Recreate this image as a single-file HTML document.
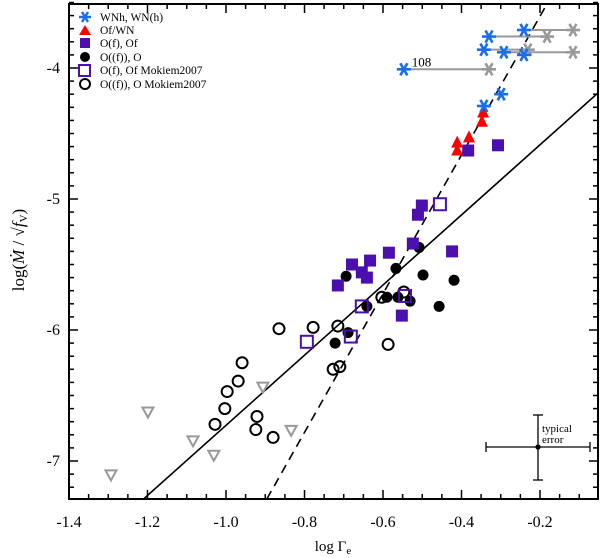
<!DOCTYPE html>
<html><head><meta charset="utf-8"><style>
body{margin:0;background:#fff;}
svg{display:block;font-family:"Liberation Serif","DejaVu Serif",serif;}
</style></head><body>
<svg id="chart" width="600" height="558" viewBox="0 0 600 558" xmlns="http://www.w3.org/2000/svg"></svg>
<script>
// ---- data ----
const xTicks=[-1.4,-1.2,-1.0,-0.8,-0.6,-0.4,-0.2];
const xTickLabels=["-1.4","-1.2","-1.0","-0.8","-0.6","-0.4","-0.2"];
const yTicks=[-4,-5,-6,-7];
const yTickLabels=["-4","-5","-6","-7"];
const wnX=[-0.241,-0.330,-0.343,-0.292,-0.241,-0.547,-0.299,-0.343];
const wnY=[-3.71,-3.76,-3.86,-3.88,-3.90,-4.01,-4.20,-4.29];
const grayX=[-0.116,-0.182,-0.231,-0.116,-0.330];
const grayY=[-3.71,-3.76,-3.86,-3.88,-4.01];
const linkFromX=[-0.241,-0.330,-0.343,-0.292,-0.547];
const ofwnX=[-0.345,-0.348,-0.381,-0.411,-0.411];
const ofwnY=[-4.34,-4.41,-4.53,-4.57,-4.63];
const ofX=[-0.383,-0.307,-0.501,-0.511,-0.524,-0.585,-0.424,-0.679,-0.633,-0.654,-0.641,-0.715,-0.552];
const ofY=[-4.63,-4.59,-5.05,-5.12,-5.34,-5.41,-5.40,-5.50,-5.47,-5.56,-5.60,-5.66,-5.89];
const ofMkX=[-0.455,-0.544,-0.654,-0.682,-0.794];
const ofMkY=[-5.04,-5.74,-5.82,-6.05,-6.09];
const oX=[-0.508,-0.567,-0.694,-0.498,-0.419,-0.590,-0.562,-0.531,-0.641,-0.457,-0.689,-0.722];
const oY=[-5.37,-5.53,-5.59,-5.58,-5.62,-5.75,-5.75,-5.78,-5.82,-5.82,-6.02,-6.10];
const oMkX=[-0.603,-0.547,-0.715,-0.778,-0.865,-0.587,-0.710,-0.727,-0.959,-0.969,-0.997,-1.003,-1.028,-0.921,-0.924,-0.880];
const oMkY=[-5.75,-5.71,-5.97,-5.98,-5.99,-6.11,-6.28,-6.30,-6.25,-6.39,-6.47,-6.60,-6.72,-6.66,-6.76,-6.82];
const triX=[-1.293,-1.199,-1.084,-1.031,-0.906,-0.834];
const triY=[-7.11,-6.63,-6.85,-6.96,-6.44,-6.77];
const solidLine=[[-1.21,-7.29],[-0.052,-4.19]];
const dashLine=[[-0.896,-7.29],[-0.182,-3.51]];

// ---- axes ----
const L=69,R=598,T=4,B=499;
const X=v=>L+(v+1.4)*392.5;
const Y=v=>68-(v+4)*131;
const svg=document.getElementById('chart');
const NS='http://www.w3.org/2000/svg';
function el(tag,attrs,parent){const e=document.createElementNS(NS,tag);for(const k in attrs)e.setAttribute(k,attrs[k]);(parent||svg).appendChild(e);return e;}

const defs=el('defs',{});
const cp=el('clipPath',{id:'clip'},defs);el('rect',{x:L,y:T,width:R-L,height:B-T},cp);

const gl=el('g',{'clip-path':'url(#clip)'});
let ln=el('line',{x1:X(solidLine[0][0]),y1:Y(solidLine[0][1]),x2:X(solidLine[1][0]),y2:Y(solidLine[1][1]),stroke:'#000','stroke-width':1.6},gl);


ln=el('line',{x1:X(dashLine[0][0]),y1:Y(dashLine[0][1]),x2:X(dashLine[1][0]),y2:Y(dashLine[1][1]),stroke:'#000','stroke-width':1.6,'stroke-dasharray':'9,6'},gl);



for(let i=0;i<grayX.length;i++){
  const l=el('line',{x1:X(linkFromX[i]),y1:Y(grayY[i]),x2:X(grayX[i]),y2:Y(grayY[i]),stroke:'#999','stroke-width':2});
  
  
}
function star(cx,cy,c,r){const g=el('g',{stroke:c,'stroke-width':2.6});
  el('line',{x1:cx-r,y1:cy,x2:cx+r,y2:cy},g);
  el('line',{x1:cx-r*0.5,y1:cy-r*0.87,x2:cx+r*0.5,y2:cy+r*0.87},g);
  el('line',{x1:cx-r*0.5,y1:cy+r*0.87,x2:cx+r*0.5,y2:cy-r*0.87},g);return g;}
for(let i=0;i<grayX.length;i++){const g=star(X(grayX[i]),Y(grayY[i]),'#999',7);
  
  }
for(let i=0;i<triX.length;i++){const cx=X(triX[i]),cy=Y(triY[i]);
  const p=el('polygon',{points:`${cx-5.5},${cy-5} ${cx+5.5},${cy-5} ${cx},${cy+5}`,fill:'none',stroke:'#999','stroke-width':2});
  
  }
for(let i=0;i<oMkX.length;i++){const c=el('circle',{cx:X(oMkX[i]),cy:Y(oMkY[i]),r:5.5,fill:'none',stroke:'#000','stroke-width':2});
  
  }
for(let i=0;i<oX.length;i++){const c=el('circle',{cx:X(oX[i]),cy:Y(oY[i]),r:5.5,fill:'#000'});
  
  }
for(let i=0;i<ofX.length;i++){const r=el('rect',{x:X(ofX[i])-6,y:Y(ofY[i])-6,width:12,height:12,fill:'#4b0fb0'});
  
  }
for(let i=0;i<ofMkX.length;i++){const r=el('rect',{x:X(ofMkX[i])-6,y:Y(ofMkY[i])-6,width:12,height:12,fill:'none',stroke:'#4b0fb0','stroke-width':2});
  
  }
for(let i=0;i<ofwnX.length;i++){const cx=X(ofwnX[i]),cy=Y(ofwnY[i]);
  const p=el('polygon',{points:`${cx-6},${cy+5} ${cx+6},${cy+5} ${cx},${cy-7}`,fill:'#f00'});
  
  }
for(let i=0;i<wnX.length;i++){const g=star(X(wnX[i]),Y(wnY[i]),'#1a6cf0',7);
  
  }
let t=el('text',{x:X(-0.547)+8,y:Y(-4.01)-3,'font-size':13});t.textContent='108';



el('rect',{x:L,y:T,width:R-L,height:B-T,fill:'none',stroke:'#000','stroke-width':2});
const tg=el('g',{stroke:'#000','stroke-width':1.5});
for(let v=-1.4;v<=-0.05;v+=0.05){const px=X(v);const maj=Math.abs(v*5-Math.round(v*5))<1e-6;const len=maj?9:5;
  el('line',{x1:px,y1:B,x2:px,y2:B-len},tg);el('line',{x1:px,y1:T,x2:px,y2:T+len},tg);}
for(let v=-7.2;v<=-3.5;v+=0.1){const py=Y(v);const maj=Math.abs(v-Math.round(v))<1e-6;const len=maj?9:5;
  el('line',{x1:L,y1:py,x2:L+len,y2:py},tg);el('line',{x1:R,y1:py,x2:R-len,y2:py},tg);}
for(let i=0;i<xTicks.length;i++){const tx=el('text',{x:X(xTicks[i]),y:527,'font-size':16,'text-anchor':'middle'});tx.textContent=xTickLabels[i];
  
  }
for(let i=0;i<yTicks.length;i++){const tx=el('text',{x:60,y:Y(yTicks[i])+5,'font-size':16,'text-anchor':'end'});tx.textContent=yTickLabels[i];
  
  }
</script>
<svg style="position:absolute;left:0;top:0" width="600" height="558" font-family="Liberation Serif, serif">
  <text x="333" y="551" font-size="15" text-anchor="middle">log Γ<tspan font-size="11" dy="3">e</tspan></text>
  <text transform="translate(24,250) rotate(-90)" font-size="17" text-anchor="middle">log(<tspan font-style="italic">Ṁ</tspan> / √<tspan font-style="italic">f</tspan><tspan font-size="11" dy="3">V</tspan><tspan dy="-3">)</tspan></text>
  <g stroke="#000" stroke-width="1.3">
    <line x1="486" y1="447" x2="590" y2="447"/><line x1="486" y1="442" x2="486" y2="452"/><line x1="590" y1="442" x2="590" y2="452"/>
    <line x1="538" y1="415" x2="538" y2="480"/><line x1="533" y1="415" x2="543" y2="415"/><line x1="533" y1="480" x2="543" y2="480"/>
    <circle cx="538" cy="447" r="2" fill="#000"/>
  </g>
  <text x="542" y="432" font-size="11">typical</text>
  <text x="542" y="443" font-size="11">error</text>
  <g font-size="11.5">
    <g><g stroke="#1a6cf0" stroke-width="2.4"><line x1="79" y1="17" x2="91" y2="17"/><line x1="82" y1="12" x2="88" y2="22"/><line x1="82" y1="22" x2="88" y2="12"/></g><text x="100" y="21">WNh, WN(h)</text></g>
    <g><polygon points="79,35 91,35 85,25" fill="#f00"/><text x="100" y="34">Of/WN</text></g>
    <g><rect x="80" y="38" width="10" height="10" fill="#4b0fb0"/><text x="100" y="47">O(f), Of</text></g>
    <g><circle cx="85" cy="57" r="5" fill="#000"/><text x="100" y="61">O((f)), O</text></g>
    <g><rect x="79" y="65" width="11" height="11" fill="none" stroke="#4b0fb0" stroke-width="2"/><text x="100" y="74">O(f), Of Mokiem2007</text></g>
    <g><circle cx="85" cy="84" r="5" fill="none" stroke="#000" stroke-width="2"/><text x="100" y="88">O((f)), O Mokiem2007</text></g>
  </g>
</svg>
</body></html>
